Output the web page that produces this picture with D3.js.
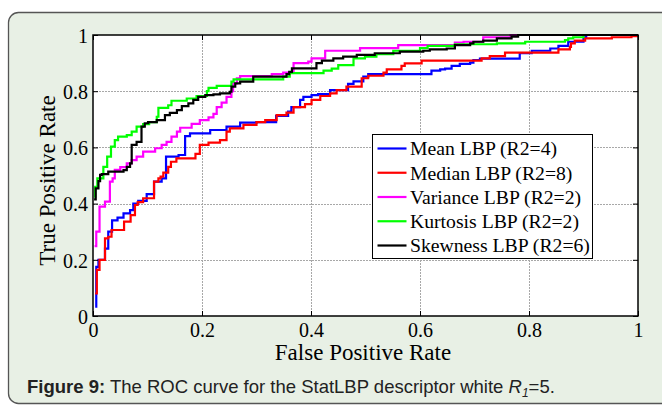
<!DOCTYPE html>
<html>
<head>
<meta charset="utf-8">
<script src="https://cdn.jsdelivr.net/npm/d3@7/dist/d3.min.js"></script>
<style>
  html, body { margin: 0; padding: 0; background: #ffffff; }
  svg { display: block; }
</style>
</head>
<body>
<svg id="chart" width="662" height="406"></svg>
<script>
// ---- Data ----
const seriesNames = ["Mean LBP (R2=4)", "Median LBP (R2=8)", "Variance LBP (R2=2)", "Kurtosis LBP (R2=2)", "Skewness LBP (R2=6)"];
const seriesColors = ["#0000ff", "#ff0000", "#ff00ff", "#00ff00", "#000000"];
const xTicks = [0, 0.2, 0.4, 0.6, 0.8, 1];
const yTicks = [0, 0.2, 0.4, 0.6, 0.8, 1];
const xTickLabels = ["0", "0.2", "0.4", "0.6", "0.8", "1"];
const yTickLabels = ["0", "0.2", "0.4", "0.6", "0.8", "1"];

// Mean LBP (R2=4)
const meanFpr = [0.004, 0.006, 0.010, 0.022, 0.028, 0.035, 0.045, 0.056, 0.068, 0.074, 0.083, 0.0985, 0.112, 0.126, 0.134, 0.157, 0.169, 0.178, 0.215, 0.245, 0.270, 0.300, 0.336, 0.358, 0.364, 0.380, 0.386, 0.401, 0.413, 0.435, 0.468, 0.478, 0.496, 0.505, 0.621, 0.637, 0.646, 0.658, 0.673, 0.692, 0.698, 0.710, 0.783, 0.805, 0.839, 0.854, 0.872, 0.900, 0.905, 1.0];
const meanTpr = [0.033, 0.175, 0.200, 0.240, 0.300, 0.340, 0.350, 0.365, 0.377, 0.400, 0.410, 0.434, 0.478, 0.490, 0.567, 0.573, 0.640, 0.650, 0.662, 0.674, 0.688, 0.690, 0.712, 0.727, 0.743, 0.769, 0.780, 0.786, 0.790, 0.804, 0.826, 0.835, 0.852, 0.861, 0.873, 0.878, 0.880, 0.890, 0.897, 0.902, 0.911, 0.916, 0.935, 0.944, 0.952, 0.961, 0.976, 0.992, 1.000, 1.000];

// Median LBP (R2=8)
const medianFpr = [0.004, 0.007, 0.012, 0.022, 0.028, 0.034, 0.057, 0.069, 0.077, 0.082, 0.092, 0.112, 0.120, 0.124, 0.129, 0.138, 0.143, 0.153, 0.188, 0.196, 0.212, 0.233, 0.245, 0.251, 0.276, 0.300, 0.316, 0.337, 0.355, 0.368, 0.389, 0.401, 0.417, 0.435, 0.447, 0.465, 0.493, 0.505, 0.533, 0.539, 0.566, 0.572, 0.603, 0.713, 0.728, 0.756, 0.854, 0.875, 0.877, 0.884, 0.903, 0.952, 0.988, 1.0];
const medianTpr = [0.080, 0.164, 0.200, 0.276, 0.282, 0.306, 0.336, 0.359, 0.395, 0.405, 0.419, 0.478, 0.490, 0.496, 0.510, 0.531, 0.549, 0.561, 0.577, 0.609, 0.617, 0.626, 0.656, 0.668, 0.680, 0.690, 0.697, 0.715, 0.724, 0.743, 0.754, 0.769, 0.783, 0.792, 0.804, 0.816, 0.846, 0.855, 0.866, 0.878, 0.890, 0.899, 0.909, 0.917, 0.925, 0.937, 0.949, 0.958, 0.970, 0.980, 0.988, 0.992, 0.996, 0.996];

// Variance LBP (R2=2)
const varianceFpr = [0.003, 0.006, 0.012, 0.022, 0.031, 0.036, 0.040, 0.050, 0.062, 0.071, 0.080, 0.092, 0.114, 0.126, 0.135, 0.144, 0.154, 0.160, 0.181, 0.196, 0.212, 0.221, 0.227, 0.236, 0.245, 0.254, 0.257, 0.264, 0.270, 0.328, 0.349, 0.368, 0.395, 0.401, 0.426, 0.490, 0.560, 0.664, 0.680, 0.716, 0.766, 1.0];
const varianceTpr = [0.249, 0.300, 0.389, 0.407, 0.478, 0.490, 0.520, 0.530, 0.543, 0.555, 0.567, 0.585, 0.597, 0.609, 0.620, 0.638, 0.656, 0.670, 0.684, 0.697, 0.707, 0.719, 0.743, 0.759, 0.780, 0.800, 0.828, 0.846, 0.854, 0.861, 0.866, 0.900, 0.905, 0.917, 0.944, 0.953, 0.964, 0.973, 0.976, 0.992, 1.000, 1.000];

// Kurtosis LBP (R2=2)
const kurtosisFpr = [0.002, 0.004, 0.008, 0.019, 0.026, 0.033, 0.040, 0.046, 0.062, 0.071, 0.080, 0.092, 0.103, 0.117, 0.120, 0.138, 0.144, 0.172, 0.190, 0.209, 0.212, 0.227, 0.254, 0.258, 0.349, 0.361, 0.423, 0.438, 0.450, 0.478, 0.499, 0.520, 0.551, 0.600, 0.614, 0.664, 0.741, 0.793, 0.866, 0.872, 0.881, 0.900, 1.0];
const kurtosisTpr = [0.425, 0.460, 0.490, 0.531, 0.567, 0.603, 0.626, 0.638, 0.644, 0.656, 0.674, 0.683, 0.690, 0.709, 0.741, 0.750, 0.766, 0.774, 0.783, 0.800, 0.812, 0.819, 0.834, 0.842, 0.852, 0.864, 0.873, 0.880, 0.893, 0.917, 0.923, 0.932, 0.944, 0.953, 0.961, 0.967, 0.970, 0.976, 0.982, 0.988, 0.992, 1.000, 1.000];

// Skewness LBP (R2=6)
const skewnessFpr = [0.002, 0.005, 0.010, 0.013, 0.016, 0.028, 0.056, 0.062, 0.068, 0.071, 0.080, 0.089, 0.095, 0.101, 0.117, 0.132, 0.141, 0.154, 0.163, 0.175, 0.184, 0.193, 0.206, 0.221, 0.233, 0.251, 0.254, 0.261, 0.270, 0.294, 0.355, 0.360, 0.365, 0.410, 0.420, 0.441, 0.459, 0.484, 0.517, 0.563, 0.606, 0.618, 0.649, 0.664, 0.692, 0.698, 0.716, 0.741, 0.768, 0.780, 1.0];
const skewnessTpr = [0.415, 0.454, 0.480, 0.502, 0.505, 0.514, 0.519, 0.531, 0.543, 0.609, 0.620, 0.674, 0.686, 0.690, 0.697, 0.715, 0.723, 0.733, 0.747, 0.757, 0.769, 0.780, 0.786, 0.789, 0.792, 0.798, 0.816, 0.828, 0.834, 0.852, 0.861, 0.869, 0.881, 0.900, 0.909, 0.917, 0.923, 0.929, 0.935, 0.941, 0.944, 0.949, 0.952, 0.964, 0.970, 0.976, 0.980, 0.988, 0.994, 1.000, 1.000];

const seriesFpr = [meanFpr, medianFpr, varianceFpr, kurtosisFpr, skewnessFpr];
const seriesTpr = [meanTpr, medianTpr, varianceTpr, kurtosisTpr, skewnessTpr];

// ---- Drawing ----
const svg = d3.select("#chart");
const serif = "'Liberation Serif', 'Times New Roman', serif";
const sans = "'Liberation Sans', Arial, sans-serif";

// outer panel
svg.append("rect")
  .attr("x", 8.5).attr("y", 12.5)
  .attr("width", 720).attr("height", 391)
  .attr("rx", 10).attr("ry", 10)
  .attr("fill", "#e8f0e5")
  .attr("stroke", "#555")
  .attr("stroke-width", 1.3);

const plot = { left: 93, right: 638, top: 35, bottom: 316 };
const x = d3.scaleLinear().domain([0, 1]).range([plot.left, plot.right]);
const y = d3.scaleLinear().domain([0, 1]).range([plot.bottom, plot.top]);

// plot background
svg.append("rect")
  .attr("x", plot.left).attr("y", plot.top)
  .attr("width", plot.right - plot.left).attr("height", plot.bottom - plot.top)
  .attr("fill", "#ffffff");

// grid lines
const grid = svg.append("g").attr("stroke", "#a8a8a8").attr("stroke-width", 1).attr("stroke-dasharray", "2,1");
grid.selectAll("line.gx").data(xTicks.slice(1, -1)).join("line")
  .attr("x1", d => Math.round(x(d)) + 0.5).attr("x2", d => Math.round(x(d)) + 0.5)
  .attr("y1", plot.top).attr("y2", plot.bottom);
grid.selectAll("line.gy").data(yTicks.slice(1, -1)).join("line")
  .attr("y1", d => Math.round(y(d)) + 0.5).attr("y2", d => Math.round(y(d)) + 0.5)
  .attr("x1", plot.left).attr("x2", plot.right);

// curves
svg.append("clipPath").attr("id", "clip").append("rect")
  .attr("x", plot.left).attr("y", plot.top - 2)
  .attr("width", plot.right - plot.left).attr("height", plot.bottom - plot.top + 2);

const line = d3.line()
  .x(d => x(d[0]))
  .y(d => y(d[1]))
  .curve(d3.curveStepAfter);

const curves = svg.append("g").attr("clip-path", "url(#clip)");
seriesNames.forEach((name, i) => {
  const pts = seriesFpr[i].map((f, j) => [f, seriesTpr[i][j]]);
  curves.append("path")
    .datum(pts)
    .attr("d", line)
    .attr("fill", "none")
    .attr("stroke", seriesColors[i])
    .attr("stroke-width", 2.2)
    .attr("stroke-linejoin", "miter");
});

// axes (box style, inward ticks)
const tickLen = 5;
const xAxisB = d3.axisBottom(x).tickValues(xTicks).tickSize(-tickLen).tickFormat((d, i) => xTickLabels[i]).tickPadding(7);
const yAxisL = d3.axisLeft(y).tickValues(yTicks).tickSize(-tickLen).tickFormat((d, i) => yTickLabels[i]).tickPadding(5);
const xAxisT = d3.axisTop(x).tickValues(xTicks).tickSize(-tickLen).tickFormat("");
const yAxisR = d3.axisRight(y).tickValues(yTicks).tickSize(-tickLen).tickFormat("");

function styleAxis(g) {
  g.select(".domain").remove();
  g.selectAll(".tick line").attr("stroke", "#000").attr("stroke-width", 1);
  g.selectAll(".tick text").attr("fill", "#000").style("font-family", serif).style("font-size", "20px");
}

svg.append("g").attr("transform", `translate(0,${plot.bottom})`).call(xAxisB).call(styleAxis)
  .selectAll(".tick text").attr("dy", "0.7em");
svg.append("g").attr("transform", `translate(${plot.left},0)`).call(yAxisL).call(styleAxis)
  .selectAll(".tick text").attr("dy", "0.36em");
svg.append("g").attr("transform", `translate(0,${plot.top})`).call(xAxisT).call(styleAxis);
svg.append("g").attr("transform", `translate(${plot.right},0)`).call(yAxisR).call(styleAxis);

// box
svg.append("rect")
  .attr("x", plot.left).attr("y", plot.top)
  .attr("width", plot.right - plot.left).attr("height", plot.bottom - plot.top)
  .attr("fill", "none").attr("stroke", "#000").attr("stroke-width", 1.5);

// axis titles
svg.append("text")
  .attr("x", 363).attr("y", 360)
  .attr("text-anchor", "middle")
  .style("font-family", serif).style("font-size", "23px")
  .text("False Positive Rate");
svg.append("text")
  .attr("transform", `translate(55,${(plot.top + plot.bottom) / 2 + 5}) rotate(-90)`)
  .attr("text-anchor", "middle")
  .style("font-family", serif).style("font-size", "23px")
  .text("True Positive Rate");

// legend
const lg = { x: 372.5, y: 134.5, w: 220, h: 124 };
const legend = svg.append("g");
legend.append("rect")
  .attr("x", lg.x).attr("y", lg.y).attr("width", lg.w).attr("height", lg.h)
  .attr("fill", "#fff").attr("stroke", "#000").attr("stroke-width", 1);
const rowY = d3.scalePoint().domain(seriesNames).range([lg.y + 14, lg.y + 111]);
seriesNames.forEach((name, i) => {
  const yy = rowY(name);
  legend.append("line")
    .attr("x1", lg.x + 5).attr("x2", lg.x + 34)
    .attr("y1", yy).attr("y2", yy)
    .attr("stroke", seriesColors[i]).attr("stroke-width", 2.2);
  legend.append("text")
    .attr("x", lg.x + 37.5).attr("y", yy).attr("dy", "0.35em")
    .style("font-family", serif).style("font-size", "19.7px")
    .text(name);
});

// caption
const cap = svg.append("text")
  .attr("x", 27).attr("y", 393)
  .style("font-family", sans).style("font-size", "18.5px").attr("fill", "#222");
cap.append("tspan").attr("font-weight", "bold").text("Figure 9:");
cap.append("tspan").text(" The ROC curve for the StatLBP descriptor white ");
cap.append("tspan").attr("font-style", "italic").text("R");
cap.append("tspan").attr("font-style", "italic").attr("font-size", "12px").attr("dy", 4).text("1");
cap.append("tspan").attr("dy", -4).text("=5.");
</script>
</body>
</html>
